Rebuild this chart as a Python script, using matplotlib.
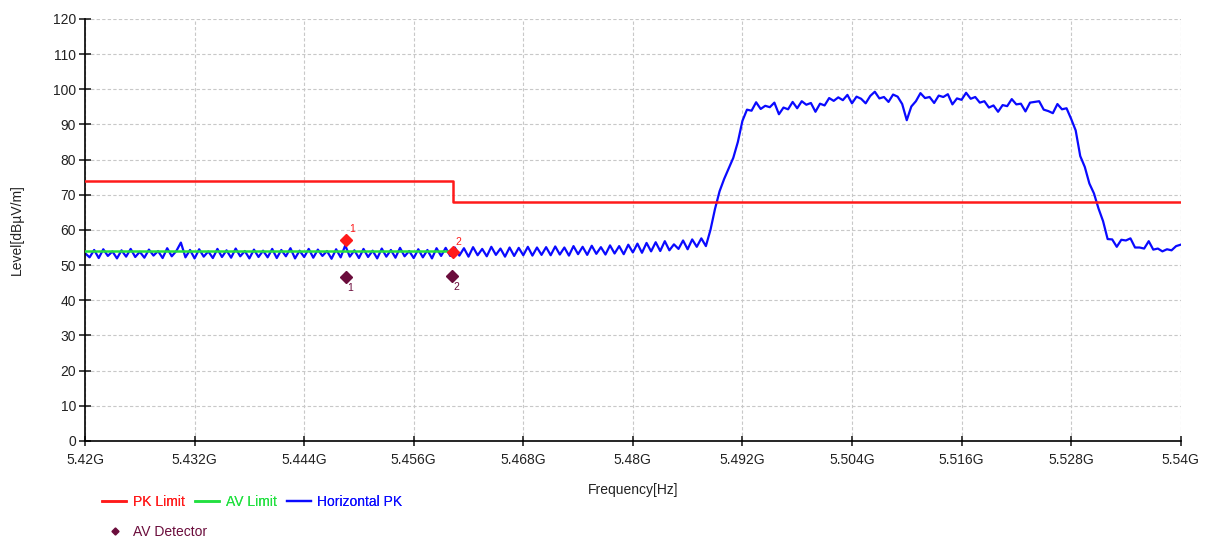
import numpy as np
import matplotlib
matplotlib.use("Agg")
import matplotlib.pyplot as plt
from matplotlib.ticker import FixedLocator

plt.rcParams['font.family'] = ['Liberation Sans', 'DejaVu Sans']

# Horizontal PK trace, one value every 0.5 MHz from 5.420 to 5.540 GHz
f_start, f_step = 5.420, 0.0005
pk_trace = [
    53.4, 52.2, 54.3, 52.0, 54.5, 52.6, 53.9, 51.9, 54.2, 52.4, 54.6, 52.3, 53.8, 52.1, 54.4, 52.7, 54.0, 52.0, 54.8, 52.5,
    54.0, 56.4, 52.2, 54.3, 51.9, 54.5, 52.4, 53.9, 52.0, 54.6, 52.3, 54.2, 52.1, 54.7, 52.5, 54.0, 51.9, 54.4, 52.3, 54.1,
    52.2, 54.6, 52.0, 54.3, 52.5, 54.8, 51.9, 54.1, 52.3, 54.6, 52.1, 54.4, 52.6, 54.0, 51.8, 54.5, 52.2, 55.6, 52.4, 54.2,
    52.0, 54.6, 52.3, 54.1, 51.9, 54.7, 52.4, 54.3, 52.1, 54.9, 52.5, 54.0, 52.0, 54.5, 52.2, 54.3, 51.9, 54.8, 52.6, 54.9,
    52.6, 55.0, 52.7, 54.8, 52.4, 55.1, 52.8, 54.6, 52.5, 55.2, 52.9, 54.7, 52.4, 55.0, 52.6, 54.9, 52.8, 55.2, 52.7, 55.0,
    52.9, 55.1, 52.8, 55.3, 53.0, 55.0, 52.7, 55.4, 53.1, 55.2, 52.9, 55.5, 53.2, 55.1, 53.0, 55.6, 53.3, 55.4, 53.1, 55.8,
    53.6, 56.1, 53.5, 56.3, 53.9, 56.5, 54.0, 56.8, 54.2, 55.9, 54.6, 57.0, 54.5, 57.3, 55.2, 57.6, 55.4, 60.0, 66.0, 71.0,
    74.5, 77.5, 80.5, 85.0, 91.0, 94.2, 93.9, 96.3, 94.4, 95.3, 94.9, 96.2, 92.9, 94.8, 94.3, 96.4, 94.6, 96.6, 95.6, 96.1,
    93.6, 95.9, 95.4, 97.5, 96.7, 97.7, 96.9, 98.4, 96.0, 97.9, 97.3, 96.0, 98.1, 99.3, 97.4, 97.8, 96.4, 98.5, 97.9, 95.8,
    91.2, 95.1, 96.6, 98.9, 97.5, 97.8, 96.1, 98.2, 97.8, 98.6, 95.7, 97.4, 97.0, 99.0, 97.3, 97.8, 96.2, 96.6, 94.8, 95.4,
    93.6, 95.5, 95.2, 97.2, 95.7, 95.9, 93.7, 96.2, 96.4, 96.6, 94.2, 93.8, 93.2, 95.8, 94.3, 94.6, 91.6, 88.3, 81.0, 77.9,
    73.2, 70.4, 66.1, 62.5, 57.4, 57.3, 55.2, 57.2, 57.0, 57.6, 55.0, 55.0, 54.7, 56.8, 54.4, 54.7, 53.9, 54.5, 54.2, 55.4,
    55.8,
]
pk_freq = f_start + f_step * np.arange(len(pk_trace))

# limit lines (GHz, dBuV/m)
pk_limit_f = [5.42, 5.4603, 5.4603, 5.54]
pk_limit_v = [74, 74, 68, 68]
av_limit_f = [5.42, 5.4603]
av_limit_v = [54, 54]

# detector readings
pk_det_f = [5.4486, 5.4603]
pk_det_v = [57.2, 53.7]
av_det_f = [5.4486, 5.4602]
av_det_v = [46.6, 46.9]
marker_ids = ['1', '2']

x_ticks = [5.42, 5.432, 5.444, 5.456, 5.468, 5.48, 5.492, 5.504, 5.516, 5.528, 5.54]
x_labels = ['5.42G', '5.432G', '5.444G', '5.456G', '5.468G', '5.48G',
            '5.492G', '5.504G', '5.516G', '5.528G', '5.54G']
y_ticks = list(range(0, 121, 10))

fig = plt.figure(figsize=(12.06, 5.41), dpi=100)
ax = fig.add_axes([0.0705, 0.185, 0.9085, 0.78])

red = '#ff1a1a'
green = '#22e040'
blue = '#0a0aff'
maroon = '#6b0d3c'

ax.plot(pk_freq, pk_trace, color=blue, lw=1.6, label='Horizontal PK', zorder=2)
ax.plot(av_limit_f, av_limit_v, color=green, lw=1.8, label='AV Limit', zorder=3)
ax.plot(pk_limit_f, pk_limit_v, color=red, lw=1.8, label='PK Limit', zorder=3)
ax.plot(pk_det_f, pk_det_v, 'D', color=red, ms=6, zorder=4)
ax.plot(av_det_f, av_det_v, 'D', color=maroon, ms=6, label='AV Detector', zorder=4)

for f, v, t in zip(pk_det_f, pk_det_v, marker_ids):
    ax.annotate(t, (f, v), xytext=(2, 4), textcoords='offset points',
                color=red, fontsize=7.5, ha='left', va='bottom')
for f, v, t in zip(av_det_f, av_det_v, marker_ids):
    ax.annotate(t, (f, v), xytext=(1, -4), textcoords='offset points',
                color=maroon, fontsize=7.5, ha='left', va='top')

ax.set_xlim(5.42, 5.54)
ax.set_ylim(0, 120)
ax.xaxis.set_major_locator(FixedLocator(x_ticks))
ax.set_xticklabels(x_labels)
ax.yaxis.set_major_locator(FixedLocator(y_ticks))
ax.grid(True, color='#c8c8c8', ls=(0, (3, 2)), lw=0.8)
ax.set_axisbelow(True)
for s in ['top', 'right']:
    ax.spines[s].set_visible(False)
ax.spines['left'].set_linewidth(1.2)
ax.spines['bottom'].set_linewidth(1.2)
ax.tick_params(axis='y', direction='inout', length=9, width=1.2, labelsize=10, colors='#222222', pad=2)
ax.tick_params(axis='x', direction='inout', length=7, width=1.2, labelsize=10, colors='#222222', pad=5)

ax.set_xlabel('Frequency[Hz]', fontsize=10, color='#222222', labelpad=12)
fig.text(0.014, 0.575, 'Level[dBµV/m]', rotation=90, fontsize=10, color='#222222',
         ha='center', va='center')

h, l = ax.get_legend_handles_labels()
hd = dict(zip(l, h))
row1 = ['PK Limit', 'AV Limit', 'Horizontal PK']
leg1 = fig.legend([hd[k] for k in row1], row1, loc='upper left',
                  bbox_to_anchor=(0.079, 0.098), ncol=3, frameon=False, fontsize=10,
                  handlelength=1.7, handletextpad=0.5, columnspacing=0.75,
                  borderpad=0, labelcolor=[red, green, blue])
leg2 = fig.legend([hd['AV Detector']], ['AV Detector'], loc='upper left',
                  bbox_to_anchor=(0.0795, 0.043), frameon=False, fontsize=10,
                  handlelength=1.7, handletextpad=0.5, borderpad=0,
                  markerscale=0.6, labelcolor=[maroon])
fig.add_artist(leg1)

fig.savefig('out.png', dpi=100)
